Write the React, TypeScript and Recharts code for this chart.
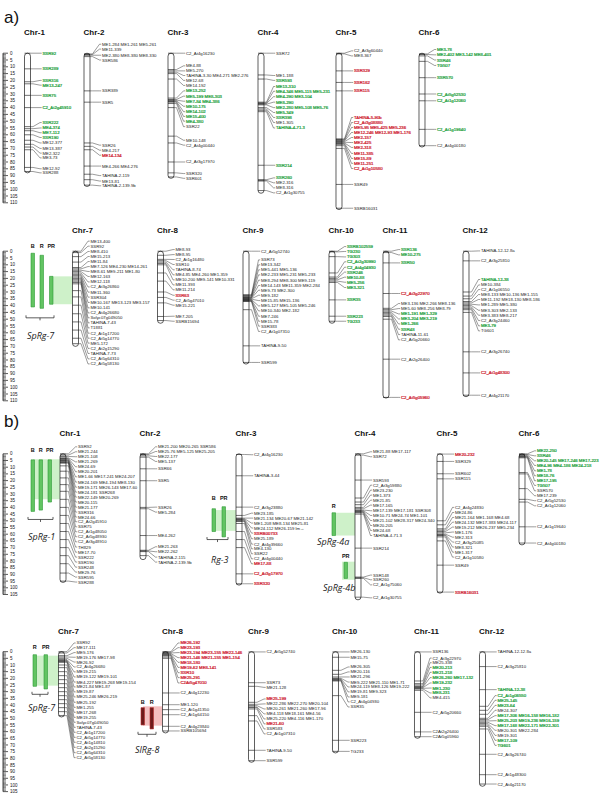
import React from "react";
import { ScatterChart, Scatter, XAxis, YAxis, ReferenceArea, ReferenceLine } from "recharts";

// marker: [label, label position cM, colour, tick position cM (if the label is pushed)]
type M = [string, number, string, number?];

// ---- panel a, top row ----
const A_TOP_NAMES = ["Chr-1", "Chr-2", "Chr-3", "Chr-4", "Chr-5", "Chr-6"];
const A_TOP_LEN = [88, 98, 92, 103, 115, 69];
const A_CHR1: M[] = [["SSR92", 0, "g"], ["SSR289", 11.5, "g"], ["SSR316", 20, "g", 21], ["ME13-247", 23.5, "g", 22.5], ["SSR75", 31, "g"], ["C2_At2g45910", 40, "g"], ["SSR222", 51, "g", 54], ["ME4-374", 55, "g", 55.5], ["ME7-112", 58.5, "g", 57], ["SSR190", 62, "g", 60], ["ME12-377", 66, "k", 64], ["ME13-387", 70, "k", 67], ["ME2-322", 73.5, "k", 69], ["ME3-73", 77, "k", 71], ["ME12-92", 85, "k", 84], ["SSR288", 88, "k", 87]];
const A_CHR2: M[] = [["ME1-284  ME1-261  ME5-261", -6.6, "k", 0.5], ["ME11-339", -3, "k", 1], ["ME2-380  ME8-380  ME8-330", 1.5, "k", 1.5], ["SSR586", 5, "k", 2.5], ["SSR389", 27.7, "k"], ["SSR5", 36, "k"], ["SSR26", 67.6, "k", 66], ["ME4-217", 71.3, "k", 68.5], ["ME14-134", 75, "r", 71], ["ME4-266  ME4-276", 83, "k"], ["TAHINA-2-119", 90, "k", 89], ["ME13-81", 94, "k", 93], ["TAHINA-2-139.9b", 97.5, "k", 97]];
const A_CHR3: M[] = [["C2_At4g16230", 0, "k"], ["ME4-88", 9.3, "k", 12], ["ME5-270", 13, "k", 13], ["TAHINA-3-30  ME4-271  ME2-276", 16.4, "k", 14], ["ME12-68", 20, "k", 15], ["ME14-192", 23.7, "k", 19], ["ME13-252", 27.7, "g", 33], ["ME5-199  ME8-303", 31.6, "g", 34], ["ME7-84  ME4-386", 35.3, "g", 34.5], ["ME10-175", 39, "g", 35], ["ME14-102", 43, "g", 35.5], ["ME15-400", 46.5, "g", 36], ["ME4-380", 50, "g", 37], ["SSR22", 54, "k", 40], ["ME10-148", 64, "k", 61], ["C2_At4g00440", 67.6, "k", 66], ["C2_At3g17970", 80, "k"], ["SSR320", 88.5, "k", 88], ["SSR601", 92, "k", 91]];
const A_CHR4: M[] = [["SSR72", 0, "k"], ["ME1-188", 16.4, "k", 16], ["SSR593", 20, "g", 19], ["ME13-310", 24.5, "g", 36], ["ME4-346  ME5-115  ME5-231", 28, "g", 36.5], ["ME4-290  ME3-104", 32, "g", 37], ["ME8-290", 36, "g", 37.5], ["ME2-280  ME5-108  ME5-76", 40, "g", 38], ["ME5-349", 43.6, "g", 40], ["SSR398", 47.3, "g", 41], ["ME1-305", 51, "k", 42], ["TAHINA-4-71.3", 55, "g", 43], ["SSR214", 82.4, "g"], ["SSR260", 91.7, "g", 93], ["ME2-316", 95.3, "k", 93.5], ["ME8-316", 99, "k", 94], ["C2_At1g30755", 102.7, "k", 101]];
const A_CHR5: M[] = [["C2_At3g60440", -1.7, "k", 0], ["ME8-367", 2, "k", 0.5], ["SSR329", 13, "r"], ["SSR162", 21.5, "r"], ["SSR115", 27.7, "r"], ["TAHINA-5-90b", 47.3, "r", 63], ["C2_At3g08880", 51, "r", 63.5], ["ME5-95  ME5-425  ME5-236", 54.6, "r", 64], ["ME12-246  ME12-93  ME1-176", 58.3, "r", 64.5], ["ME2-157", 62, "r", 65], ["ME2-425", 65.7, "r", 65.5], ["ME2-318", 69.3, "r", 66], ["ME11-385", 73.7, "r", 66.5], ["ME15-89", 77.4, "r", 67], ["ME11-251", 81, "r", 68], ["C2_At1g10580", 84.8, "r", 70], ["SSR49", 96.5, "k"], ["SSRB16031", 114, "k"]];
const A_CHR6: M[] = [["ME3-78", -2.7, "g", 0.5], ["ME2-402  ME3-142  ME8-401", 1.2, "g", 1], ["SSR46", 5, "g", 2], ["TG507", 9, "g", 6], ["SSR570", 18, "g"], ["C2_At5g52530", 30, "g"], ["C2_At1g12060", 35, "g"], ["C2_At1g19640", 56, "g"], ["C2_At4g00180", 68, "k"]];

// ---- panel a, bottom row ----
const A_BOT_NAMES = ["Chr-7", "Chr-8", "Chr-9", "Chr-10", "Chr-11", "Chr-12"];
const A_BOT_LEN = [70, 53, 83, 53, 108, 107];
const A_CHR7: M[] = [["ME13-400", -7.4, "k", 0], ["SSR92", -3.7, "k", 1], ["ME8-410", 0.2, "k", 4], ["ME15-213", 3.9, "k", 8], ["ME11-84", 7.6, "k", 12], ["ME7-126  ME4-230  ME14-261", 11.3, "k", 13], ["ME8-61  ME9-211  ME1-80", 14.9, "k", 14], ["ME12-163", 18.6, "k", 15], ["ME12-118", 22.6, "k", 16], ["C2_At3g26860", 26.3, "k", 17], ["ME11-360", 30.1, "k", 18], ["SSR304", 33.8, "k", 19], ["ME10-167  ME13-123  ME3-157", 37.7, "k", 20], ["ME10-141", 41.7, "k", 21], ["C2_At4g26680", 45.4, "k", 22], ["Solyc07g049050", 49, "k", 23], ["TAHINA-7-43", 52.7, "k", 24], ["T1881", 56.4, "k", 29], ["C2_At1g17200", 60.3, "k", 33.6], ["C2_At5g14770", 64, "k", 39.7], ["ME5-172", 67.6, "k", 46], ["C2_At2g15290", 71.5, "k", 52], ["TAHINA-7-73", 75.2, "k", 58], ["C2_At5g64310", 79.2, "k", 64], ["C2_At5g58130", 82.9, "k", 68]];
const A_CHR8: M[] = [["ME8-93", -1.2, "k", 0], ["ME8-95", 2.5, "k", 3], ["C2_At1g16480", 6.1, "k", 6], ["SSR10", 9.8, "k", 7], ["TAHINA-8-74", 13.7, "k", 8], ["ME4-85  ME4-260  ME1-359", 17.4, "k", 9], ["ME10-200  ME9-141  ME10-331", 21.1, "k", 10], ["ME11-393", 24.8, "k", 16], ["ME11-214", 28.4, "k", 22], ["SSR63", 32.4, "r", 30], ["C2_At5g47010", 36, "k", 34], ["ME15-221", 39.7, "k", 38], ["ME7-205", 47.8, "k", 48], ["SSRB15694", 51.5, "k", 51]];
const A_CHR9: M[] = [["C2_At5g52740", 0, "k"], ["SSR73", 6.4, "k", 32], ["ME13-342", 10, "k", 32.5], ["ME5-441  ME5-136", 13.7, "k", 33], ["ME2-233  ME5-231  ME5-233", 17.4, "k", 33.5], ["ME8-294  ME8-300  ME9-119", 21.3, "k", 34], ["ME14-143  ME11-359  ME2-284", 25.2, "k", 34.3], ["ME9-73  ME2-300", 28.7, "k", 34.6], ["ME9-182", 32.4, "k", 35], ["ME15-85  ME15-136", 36.3, "k", 35.3], ["ME5-127  ME5-105  ME5-246", 40.2, "k", 35.6], ["ME10-340  ME2-182", 43.9, "k", 36], ["ME7-246", 47.8, "k", 36.3], ["ME15-78", 51.5, "k", 36.6], ["SSR383", 55.1, "k", 37], ["C2_At1g07310", 59, "k", 43], ["TAHINA-9-50", 69.6, "k"], ["SSR599", 81.8, "k"]];
const A_CHR10: M[] = [["SSRB102559", -3.4, "g", 0], ["TG230", 0.2, "g", 0.5], ["TG303", 4.2, "g", 4], ["C2_At2g30990", 7.8, "g", 16], ["C2_At4g04930", 11.8, "g", 19], ["SSR246", 15.4, "g", 20], ["ME10-88", 19.1, "g", 21], ["ME5-256", 22.8, "g", 22], ["ME3-321", 26.7, "g", 23], ["SSR35", 35.8, "g"], ["SSR223", 47.8, "g"], ["TG233", 51.5, "g"]];
const A_CHR11: M[] = [["SSR136", -1.2, "g", 0], ["ME10-275", 2.7, "g", 1], ["SSR50", 8.6, "g"], ["C2_At3g22970", 31.1, "r"], ["ME3-136  ME2-266  ME8-136", 38.5, "k", 42], ["ME5-60  ME8-256  ME8-79", 42.2, "k", 43], ["ME1-191  ME1-329", 46.1, "g", 44], ["ME3-204  ME3-219", 49.8, "g", 45], ["ME1-266", 53.5, "g", 46], ["SSR48", 57.4, "g", 47], ["TAHINA-11-61", 61.3, "k", 48], ["C2_At5g20660", 65.2, "k", 50], ["C2_At2g26400", 79.4, "k"], ["C2_At5g05960", 107.5, "r"]];
const A_CHR12: M[] = [["TAHINA-12-12.8a", -0.2, "k", 0], ["C2_At3g25810", 7.1, "k"], ["TAHINA-12-38", 20.8, "g", 30], ["ME10-384", 24.8, "k", 33], ["C2_At1g06550", 28.2, "k", 35], ["ME8-133  ME10-136  ME1-155", 31.9, "k", 37], ["ME11-192  ME18-130  ME8-186", 35.5, "k", 38], ["ME1-289  ME5-380", 39.5, "k", 39], ["ME3-303  ME2-133", 43.4, "k", 40], ["ME3-383  ME8-217", 47.1, "k", 41], ["C2_At3g24460", 51, "k", 42], ["ME3-79", 54.9, "g", 43], ["TG601", 58.6, "k", 45], ["C2_At3g26740", 74, "k"], ["C2_At1g48300", 89.5, "r"], ["C2_At4g21170", 105.9, "k"]];

// ---- panel b, top row ----
const B_TOP_LEN = [96, 79, 98, 109, 104, 68];
const B_CHR1: M[] = [["SSR92", -5.2, "k", 0], ["ME21-244", -1.5, "k", 1], ["ME21-108", 2.2, "k", 2], ["ME21-269", 6, "k", 3], ["ME24-69", 9.7, "k", 3.5], ["ME20-201", 13.4, "k", 4], ["ME1-66  ME17-241  ME24-207", 17.2, "k", 4.5], ["ME24-169  ME4-194  ME8-130", 21.1, "k", 5], ["ME19-171  ME26-143  ME17-60", 24.9, "k", 5.5], ["ME24-181  SSR268", 28.6, "k", 6], ["ME22-149  ME20-269", 32.3, "k", 6.5], ["ME20-115", 36, "k", 7], ["ME21-177", 39.8, "k", 9], ["SSR316", 43.5, "k", 13], ["ME24-66", 47.2, "k", 18], ["C2_At2g45910", 50.7, "k", 23], ["SSR75", 54.5, "k", 28], ["C2_At1g48050", 58.2, "k", 34], ["C2_At5g48930", 61.9, "k", 40], ["C2_At3g48910", 65.7, "k", 46], ["TH829", 69.6, "k", 52], ["ME17-70", 73.4, "k", 58], ["SSR222", 77.1, "k", 64], ["SSR190", 80.8, "k", 70], ["SSR248", 84.6, "k", 76], ["ME29-76", 88.3, "k", 82], ["SSR595", 92, "k", 89], ["SSR288", 95.7, "k", 95]];
const B_CHR2: M[] = [["ME21-200  ME20-265  SSR586", -5.2, "k", 0], ["ME25-76  ME5-125  ME25-205", -1.7, "k", 0.5], ["ME22-177", 2, "k", 1.5], ["ME5-137", 5.7, "k", 2.5], ["SSR66", 11.2, "k"], ["SSR5", 20.1, "k"], ["SSR26", 39.8, "k", 40], ["ME5-284", 43.5, "k", 41], ["ME4-262", 61, "k"], ["ME21-263", 69.4, "k", 72], ["ME22-262", 73.1, "k", 72.5], ["TAHINA-2-115", 77.1, "k", 73], ["TAHINA-2-139.9b", 80.8, "k", 76]];
const B_CHR3: M[] = [["C2_At4g16230", 0.7, "k", 0.5], ["TAHINA-3-44", 16.4, "k"], ["C2_At3g23880", 39.8, "k"], ["ME23-185", 44.3, "k", 46], ["ME21-134  ME20-67  ME21-142", 48, "k", 48], ["ME1-208  ME8-134  ME25-81", 51.7, "k", 48.5], ["ME24-112  ME26-159  lm\u2192", 55.4, "k", 49], ["SSRB00733", 59.2, "r", 49.5], ["ME25-189", 63.4, "k", 50], ["C2_At4g39660", 67.4, "k", 50.5], ["ME4-130", 70.9, "k", 52], ["SSR22", 74.6, "k", 58], ["C2_At4g00440", 78.4, "k", 64], ["ME17-88", 82.1, "r", 70], ["C2_At3g17970", 89.6, "r"], ["SSR320", 97, "r"]];
const B_CHR4: M[] = [["ME21-88  ME17-117", -1.5, "k", 0], ["SSR72", 2.2, "k", 1], ["SSR593", 19.6, "k"], ["C2_At3g59880", 23.4, "k", 33], ["ME23-230", 27.1, "k", 36], ["ME1-373", 30.8, "k", 38], ["ME21-85", 34.6, "k", 40], ["ME17-165", 38.3, "k", 41], ["ME17-139  ME17-181  SSR308", 42.5, "k", 42], ["ME10-71  ME24-74  ME1-101", 46, "k", 42.5], ["ME21-102  ME28-317  ME24-340", 49.8, "k", 43], ["ME20-205", 53.5, "k", 43.5], ["ME24-68", 57.2, "k", 44], ["TAHINA-4-71.3", 61, "k", 45], ["SSR214", 70.4, "k"], ["SSR148", 90.5, "k", 92], ["SSR260", 94, "k", 92.5], ["C2_At1g75060", 97.8, "k", 93], ["C2_At1g30755", 107.5, "k", 107]];
const B_CHR5: M[] = [["ME20-232", 0.2, "r"], ["SSR329", 5.7, "k"], ["SSR602", 14.9, "k"], ["SSR115", 18.7, "k"], ["C2_At4g24830", 40, "k", 50], ["ME24-86", 43.8, "k", 53], ["ME21-164  ME1-168  ME4-68", 47.5, "k", 56], ["ME24-132  ME17-383  ME24-117", 51, "k", 57], ["ME19-212  ME26-237  ME5-234", 54.7, "k", 58], ["ME1-176", 58.4, "k", 59], ["ME2-313", 62.2, "k", 60], ["C2_At3g25085", 65.9, "k", 60.5], ["ME8-321", 69.6, "k", 61], ["ME1-317", 73.4, "k", 62], ["C2_At1g10580", 77.1, "k", 65], ["SSR49", 83.1, "k"], ["SSRB16031", 103.2, "r"]];
const B_CHR6: M[] = [["ME22-250", -2.2, "g", 0], ["SSR46", 1.5, "g", 0.5], ["ME20-145  ME17-246  ME17-223", 5.2, "g", 1], ["ME4-96  ME4-186  ME24-218", 8.7, "g", 1.5], ["ME1-78", 12.7, "g", 2], ["ME18-76", 16.4, "g", 2.5], ["ME17-195", 20.1, "g", 3], ["TG507", 23.6, "g", 14], ["SSR570", 27.6, "k", 15], ["ME17-239", 31.3, "k", 26], ["C2_At5g52530", 35, "k", 34], ["C2_At1g12060", 38.8, "k", 36], ["C2_At1g19640", 54.5, "k"], ["C2_At4g00180", 66.6, "k"]];

// ---- panel b, bottom row ----
const B_BOT_LEN = [49, 61, 83, 76, 65, 101];
const B_CHR7: M[] = [["SSR92", -6.5, "k", 0], ["ME17-111", -3, "k", 1], ["ME9-176", 0.7, "k", 3], ["ME19-176  ME17-98", 4.2, "k", 4], ["ME26-92", 7.8, "k", 5], ["C2_At4g26680", 11.5, "k", 6], ["ME19-215", 15.2, "k", 6.5], ["ME19-122  ME19-101", 19, "k", 7], ["ME4-227  ME19-268  ME19-154", 22.8, "k", 7.5], ["ME21-84  ME1-87", 26.5, "k", 8], ["ME19-87", 30.2, "k", 10], ["ME25-246  ME26-219", 34, "k", 12], ["ME25-192", 38, "k", 15], ["ME1-255", 41.8, "k", 18], ["ME17-268", 45.5, "k", 21], ["ME19-255", 49.3, "k", 24], ["Solyc07g049050", 53, "k", 27], ["TAHINA-7-43", 56.8, "k", 30], ["C2_At1g17200", 60.5, "k", 33], ["C2_At5g14770", 64.3, "k", 36], ["C2_At1g14810", 68, "k", 39], ["C2_At2g15290", 71.8, "k", 42], ["C2_At5g64310", 75.8, "k", 45], ["C2_At5g58130", 79.5, "k", 48]];
const B_CHR8: M[] = [["ME26-192", -6.5, "r", 0], ["ME23-193", -3, "r", 0.5], ["ME23-194  ME23-155  ME22-146", 0.7, "r", 1], ["ME21-146  ME21-155  ME1-154", 4.5, "r", 1.5], ["ME18-180", 8, "r", 2], ["ME19-62  ME8-141", 11.8, "r", 2.5], ["SSR10", 15.8, "r", 3], ["ME25-291", 19.5, "r", 4], ["C2At5g47010", 23.5, "r", 5], ["C2_At4g12230", 31, "k"], ["ME1-120", 39.8, "k"], ["C2_At1g41350", 43.5, "k"], ["C2_At1g64150", 47.3, "k"], ["C2_At4g23840", 56, "k"], ["SSRB105694", 59.5, "k"]];
const B_CHR9: M[] = [["C2_At5g52740", 0.2, "k"], ["SSR73", 23.3, "k"], ["ME21-128", 26.8, "k", 26], ["ME25-199", 35.5, "r", 38], ["ME22-286  ME22-270  ME20-104", 39.2, "k", 39.5], ["ME20-261  ME21-260  ME17-96", 43, "k", 40.5], ["ME4-118  ME18-161  ME4-56", 46.7, "k", 41.5], ["ME25-220  ME4-116  ME1-170", 50.5, "k", 42], ["ME21-60", 54.2, "r", 43], ["SSR583", 58, "k", 48], ["C2_At1g07310", 61.7, "k", 52], ["TAHINA-9-50", 74, "k"], ["SSR599", 81.8, "k"]];
const B_CHR10: M[] = [["ME26-130", 0.2, "k"], ["ME15-75", 4.2, "k"], ["ME26-305", 11.5, "k", 14], ["ME20-116", 15.2, "k", 17], ["ME21-296", 19, "k", 19], ["ME9-222  ME21-110  ME1-71", 22.8, "k", 20], ["ME24-119  ME8-126  ME19-222", 26.5, "k", 20.5], ["ME19-81  ME9-323", 30.2, "k", 21], ["ME9-181", 34, "k", 21.5], ["C2_At4g04930", 37.7, "k", 22], ["SSR35", 41.5, "k", 33], ["SSR223", 66.5, "k"], ["TG233", 74.8, "k"]];
const B_CHR11: M[] = [["SSR136", 0.2, "k"], ["C2_At3g22970", 4.8, "k", 22], ["ME25-338", 8.3, "k", 24], ["ME20-213", 11.8, "g", 25], ["ME21-218", 15.5, "g", 26], ["ME26-260  ME17-132", 19.5, "g", 26.5], ["ME19-232", 23.5, "g", 27], ["ME1-230", 27.3, "g", 27.5], ["ME8-231", 31, "g", 28], ["ME4-415", 34.7, "k", 29], ["C2_At5g20660", 45.5, "k"], ["C2At2g26400", 60.2, "k"], ["C2At5g05960", 63.8, "k"]];
const B_CHR12: M[] = [["TAHINA-12-12.8a", 0.2, "k"], ["C2_At3g25810", 11.2, "k"], ["TAHINA-12-38", 28.5, "g"], ["C2_At1g06550", 33, "g", 41], ["ME25-145", 36.5, "g", 44], ["ME23-64", 40.3, "g", 47], ["ME24-307", 44, "k", 50], ["ME17-306  ME16-158  ME16-182", 48, "g", 51], ["ME25-203  ME19-236  ME16-159", 51.8, "g", 52], ["ME17-168  ME22-171  ME22-301", 55.5, "g", 53], ["ME20-301  ME22-284", 59, "k", 54], ["ME19-301", 62.8, "k", 55], ["ME17-109", 66.5, "g", 56], ["TG601", 70.3, "g", 58], ["C2_At3g26740", 77, "k"], ["C2_At1g48300", 92.3, "k"], ["C2_At4g21170", 99.3, "k"]];

// QTL intervals (cM)
type Q = { name: string; chr: number; traits: string[]; from: number[]; to: number[]; shade: [number, number]; red?: boolean };
const A_BOT_QTL: Q[] = [{ name: "SpRg-7", chr: 0, traits: ["B", "R", "PR"], from: [1.5, 3, 18.5], to: [41, 42, 39], shade: [18.5, 39] }];
const B_TOP_QTL: Q[] = [
  { name: "SpRg-1", chr: 0, traits: ["B", "R", "PR"], from: [4.5, 4.5, 4.5], to: [43, 42, 36], shade: [4, 34] },
  { name: "Rg-3", chr: 2, traits: ["B", "PR"], from: [41, 39.5], to: [58, 62], shade: [42, 57.5] },
  { name: "SpRg-4a", chr: 3, traits: ["R"], from: [44], to: [61], shade: [44, 61] },
  { name: "SpRg-4b", chr: 3, traits: ["PR"], from: [81], to: [93], shade: [80.5, 94] },
];
const B_BOT_QTL: Q[] = [
  { name: "SpRg-7", chr: 0, traits: ["R", "PR"], from: [2.3, 2.3], to: [26, 28], shade: [3, 25.5] },
  { name: "SlRg-8", chr: 1, traits: ["B", "R"], from: [42, 42], to: [55, 58], shade: [41, 55.5], red: true },
];

// ---- layout (page pixels) ----
type QL = { barX: number[]; shadeX: number; traitCm: number; nameAt: [number, number]; bracket?: [number, number, number] };
const A_TOP_X = [27.5, 87, 171, 261, 339, 422];
const A_BOT_X = [75.5, 160.5, 246, 332, 386, 466];
const B_TOP_X = [63, 143, 239, 358, 440, 522];
const B_BOT_X = [61.5, 165.5, 251.5, 335.5, 417.5, 482.5];
const A_BOT_QL: QL[] = [{ barX: [31, 40, 49.5], shadeX: 50, traitCm: -3.5, nameAt: [27, 62], bracket: [26, 54, 49] }];
const B_TOP_QL: QL[] = [
  { barX: [31, 39, 48], shadeX: 33, traitCm: -2.5, nameAt: [28, 62], bracket: [28, 53, 49] },
  { barX: [212, 222], shadeX: 215, traitCm: 33, nameAt: [211, 79], bracket: [207, 228, 64] },
  { barX: [332], shadeX: 335, traitCm: 39, nameAt: [317, 66] },
  { barX: [344], shadeX: 342, traitCm: 76, nameAt: [323, 100] },
];
const B_BOT_QL: QL[] = [
  { barX: [33, 44], shadeX: 36, traitCm: -3.7, nameAt: [28, 42], bracket: [32, 48, 32] },
  { barX: [141, 150], shadeX: 143, traitCm: 37.5, nameAt: [135, 73.5], bracket: [138, 156, 62] },
];

const FONT = "'Liberation Sans', Arial, sans-serif";
const COLORS: Record<string, string> = { k: "#1a1a1a", g: "#169c36", r: "#cc0f26" };
const CHR_W = 6;
const LO = -20;
const HI = 120;
const BAR_W = 3.5;
const RULER_X = 3;

type Row = { top: number; k: number; ruler: number; names: string[]; lens: number[]; xs: number[]; markers: M[][]; qtls: Q[]; ql: QL[] };

const ROWS: Row[] = [
  { top: 53, k: 1.36, ruler: 110, names: A_TOP_NAMES, lens: A_TOP_LEN, xs: A_TOP_X, markers: [A_CHR1, A_CHR2, A_CHR3, A_CHR4, A_CHR5, A_CHR6], qtls: [], ql: [] },
  { top: 251, k: 1.36, ruler: 110, names: A_BOT_NAMES, lens: A_BOT_LEN, xs: A_BOT_X, markers: [A_CHR7, A_CHR8, A_CHR9, A_CHR10, A_CHR11, A_CHR12], qtls: A_BOT_QTL, ql: A_BOT_QL },
  { top: 454, k: 1.34, ruler: 105, names: A_TOP_NAMES, lens: B_TOP_LEN, xs: B_TOP_X, markers: [B_CHR1, B_CHR2, B_CHR3, B_CHR4, B_CHR5, B_CHR6], qtls: B_TOP_QTL, ql: B_TOP_QL },
  { top: 652, k: 1.333, ruler: 105, names: A_BOT_NAMES, lens: B_BOT_LEN, xs: B_BOT_X, markers: [B_CHR7, B_CHR8, B_CHR9, B_CHR10, B_CHR11, B_CHR12], qtls: B_BOT_QTL, ql: B_BOT_QL },
];

const capsule = (p: any) => (
  <rect x={p.x} y={p.y} width={p.width} height={p.height} rx={3} ry={3} fill="#fff" stroke="#1a1a1a" strokeWidth={0.7} />
);

function rulerShape(p: any) {
  const { cx, cy, payload } = p;
  if (cx == null || cy == null) return <g />;
  const major = payload.y % 5 === 0;
  return (
    <g>
      <line x1={cx} y1={cy} x2={cx + (major ? 5 : 3)} y2={cy} stroke="#111" strokeWidth={major ? 0.7 : 0.5} />
      {major && (
        <text x={cx + 7} y={cy} dy="0.35em" fontSize={4.5} fill="#111" fontFamily={FONT}>
          {payload.y}
        </text>
      )}
    </g>
  );
}

function markerShape(p: any) {
  const { cx, cy, payload } = p;
  if (cx == null || cy == null) return <g />;
  const left = cx - CHR_W / 2;
  const right = cx + CHR_W / 2;
  const ly = cy + payload.shift;
  const lx = right + 12;
  const col = COLORS[payload.c];
  const coloured = payload.c !== "k";
  return (
    <g>
      <line x1={left} y1={cy} x2={right} y2={cy} stroke="#111" strokeWidth={0.6} />
      <polyline points={`${right},${cy} ${right + 2.5},${cy} ${lx - 2.5},${ly} ${lx - 0.8},${ly}`} fill="none" stroke="#222" strokeWidth={0.45} />
      <text x={lx} y={ly} dy="0.35em" fontSize={4.3} fill={col} stroke={coloured ? col : "none"} strokeWidth={coloured ? 0.2 : 0} fontFamily={FONT}>
        {payload.label}
      </text>
    </g>
  );
}

function textShape(p: any) {
  const { cx, cy, payload: t } = p;
  if (cx == null || cy == null) return <g />;
  return (
    <text x={cx} y={cy} dy="0.35em" textAnchor={t.anchor} fontSize={t.size} fontWeight={t.weight} fontStyle={t.italic ? "italic" : "normal"} fill={t.fill} fontFamily={t.family}>
      {t.text}
    </text>
  );
}

function MapRow({ row }: { row: Row }) {
  const h = (HI - LO) * row.k;
  const ruler = Array.from({ length: row.ruler + 1 }, (_, i) => ({ x: RULER_X, y: i }));
  const marks = row.markers.flatMap((list, i) =>
    list.map(([label, at, c, tick]) => {
      const t = tick ?? at;
      return { x: row.xs[i], y: t, label, c, shift: (at - t) * row.k };
    })
  );
  const texts: any[] = row.names.map((n, i) => ({ x: row.xs[i] - CHR_W / 2 - 0.5, y: -15.5, text: n, anchor: "start", size: 8, weight: 700, fill: "#111", family: FONT }));
  const bracketLines: any[] = [];
  row.qtls.forEach((q, qi) => {
    const l = row.ql[qi];
    q.traits.forEach((tr, j) => texts.push({ x: l.barX[j] + BAR_W / 2, y: l.traitCm, text: tr, anchor: "middle", size: 5.5, weight: 700, fill: "#111", family: FONT }));
    texts.push({ x: l.nameAt[0], y: l.nameAt[1], text: q.name, anchor: "start", size: 9, weight: 400, italic: true, fill: "#222", family: "'Open Sans', 'DejaVu Sans', sans-serif" });
    if (l.bracket) {
      const [x1, x2, y] = l.bracket;
      const d = 2.5 / row.k;
      const mid = (x1 + x2) / 2;
      bracketLines.push([{ x: x1, y }, { x: x2, y }], [{ x: x1, y }, { x: x1, y: y - d }], [{ x: x2, y }, { x: x2, y: y - d }], [{ x: mid, y }, { x: mid, y: y + d }]);
    }
  });
  return (
    <div style={{ position: "absolute", left: 0, top: row.top + LO * row.k }}>
      <ScatterChart width={600} height={h} margin={{ top: 0, right: 0, bottom: 0, left: RULER_X }}>
        <XAxis type="number" dataKey="x" domain={[RULER_X, 600]} hide allowDataOverflow />
        <YAxis type="number" dataKey="y" domain={[LO, HI]} reversed allowDataOverflow hide width={0} />
        <ReferenceLine segment={[{ x: RULER_X, y: 0 }, { x: RULER_X, y: row.ruler }]} stroke="#111" strokeWidth={0.8} />
        {row.qtls.map((q, qi) => (
          <ReferenceArea key={`s${qi}`} x1={row.ql[qi].shadeX} x2={row.xs[q.chr] - CHR_W / 2} y1={q.shade[0]} y2={q.shade[1]} fill={q.red ? "#f2b4b4" : "#c6eebf"} fillOpacity={0.85} stroke="none" />
        ))}
        {row.qtls.flatMap((q, qi) =>
          q.traits.map((_, j) => (
            <ReferenceArea key={`b${qi}-${j}`} x1={row.ql[qi].barX[j]} x2={row.ql[qi].barX[j] + BAR_W} y1={q.from[j]} y2={q.to[j]} fill={q.red ? "#6e1b1b" : "#62c462"} fillOpacity={1} stroke={q.red ? "#b83030" : "#2e9a36"} strokeWidth={0.6} />
          ))
        )}
        {bracketLines.map((seg, i) => (
          <ReferenceLine key={`br${i}`} segment={seg} stroke="#333" strokeWidth={0.8} />
        ))}
        {row.lens.map((len, i) => (
          <ReferenceArea key={`c${i}`} x1={row.xs[i] - CHR_W / 2} x2={row.xs[i] + CHR_W / 2} y1={0} y2={len} shape={capsule} />
        ))}
        <Scatter data={ruler} shape={rulerShape} isAnimationActive={false} />
        <Scatter data={marks} shape={markerShape} isAnimationActive={false} />
        <Scatter data={texts} shape={textShape} isAnimationActive={false} />
      </ScatterChart>
    </div>
  );
}

export default function App() {
  return (
    <div style={{ position: "absolute", left: 0, top: 0, width: 600, height: 800, background: "#fff", overflow: "hidden" }}>
      <div style={{ position: "absolute", left: 4, top: 8, fontSize: 17, fontFamily: FONT, color: "#111" }}>a)</div>
      <div style={{ position: "absolute", left: 4, top: 412, fontSize: 17, fontFamily: FONT, color: "#111" }}>b)</div>
      {ROWS.map((r, i) => (
        <MapRow key={i} row={r} />
      ))}
    </div>
  );
}
